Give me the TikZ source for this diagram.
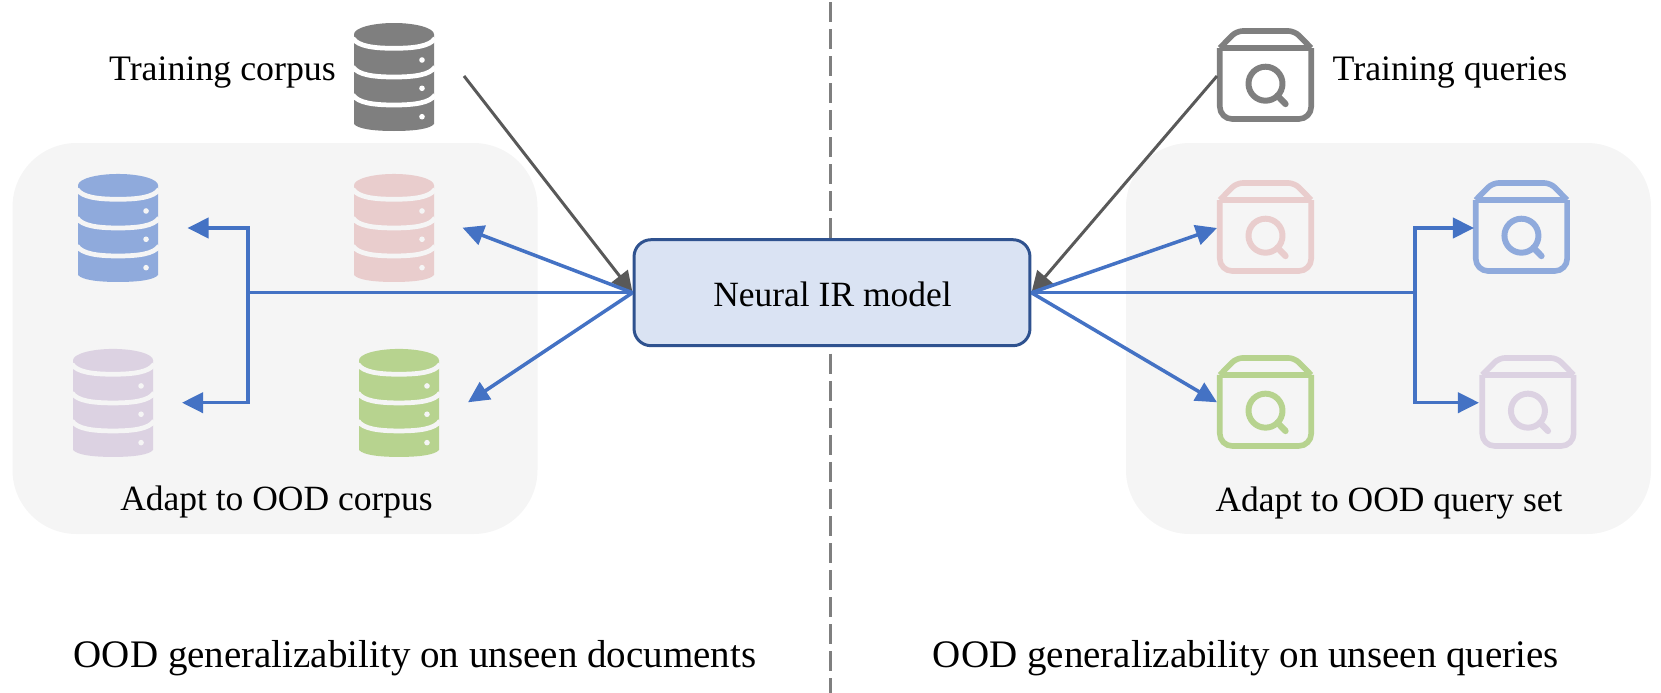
\documentclass[tikz,border=0pt]{standalone}
\usepackage{fontspec}
\setmainfont{Liberation Serif}
\usetikzlibrary{arrows.meta, positioning}

\definecolor{panelgray}{HTML}{F5F5F5}
\definecolor{flowblue}{HTML}{4472C4}
\definecolor{modelfill}{HTML}{DAE3F3}
\definecolor{modeldraw}{HTML}{2F528F}
\definecolor{icongray}{HTML}{7F7F7F}
\definecolor{iconblue}{HTML}{8FAADC}
\definecolor{iconpink}{HTML}{E9CDCD}
\definecolor{iconpurple}{HTML}{DCD2E2}
\definecolor{icongreen}{HTML}{B7D38F}

\tikzset{
    panel/.style={draw=none, fill=panelgray, rounded corners=1.28cm},
    dbslot/.style={inner sep=0, outer sep=0, minimum width=1.6cm, minimum height=2.16cm},
    queryslot/.style={inner sep=0, outer sep=0, minimum width=1.94cm, minimum height=1.88cm},
    flow/.style={draw=flowblue, line width=2pt, -{Triangle[length=12pt, width=11.5pt]}},
    flowtrunk/.style={draw=flowblue, line width=2pt},
    trainflow/.style={draw=gray!70!black, line width=1.7pt, -{Triangle[length=12pt, width=11.5pt]}},
    caption/.style={font=\fontsize{20.2}{24}\selectfont, anchor=base},
    traincaption/.style={font=\fontsize{20.4}{24}\selectfont, anchor=base},
    heading/.style={font=\fontsize{22.2}{26}\selectfont, anchor=base},
}

% database icon: slot node, colour, colour of the stripes
\newcommand{\dbicon}[3]{
    \begin{scope}[shift={(#1)}]
        \fill[#2] (-40,-42.7) -- (-40,47) .. controls (-36,52) and (-20,54) .. (0,54)
            .. controls (20,54) and (36,52) .. (40,47) -- (40,-42.7) -- cycle;
        \fill[#2] (0,-42.7) ellipse [x radius=40, y radius=11.3];
        \foreach \y in {-28.7,0,28} {
            \draw[#3, line width=2.7pt] (-41,\y-10) .. controls (-36,\y-2) and (-20,\y) .. (0,\y)
                .. controls (20,\y) and (36,\y-2) .. (41,\y-10);
        }
        \foreach \y in {-17,11.3,39.7} {
            \fill[#3] (28,\y) circle [radius=2.8];
        }
    \end{scope}
}

% query icon: slot node, colour
\newcommand{\queryicon}[2]{
    \begin{scope}[shift={(#1)}, draw=#2, line width=3.2pt, line join=round]
        \draw[rounded corners=7pt] (-45.7,-27) -- (-45.7,44) -- (45.7,44) -- (45.7,-27);
        \draw (-45.7,-27) -- (45.7,-27);
        \draw[rounded corners=3.5pt] (-45.7,-27) -- (-29,-44) -- (29,-44) -- (45.7,-27);
        \draw[line width=3.4pt] (0,8.7) circle [radius=17];
        \draw[line width=3.6pt, line cap=round] (12,20.7) -- (20,29);
    \end{scope}
}

\begin{document}
\begin{tikzpicture}[x=0.02cm, y=-0.02cm]
    \useasboundingbox (0,0) rectangle (1661,693);

    % Grey panels and the divider
    \path[panel] (12.5,143) rectangle (537.5,534);
    \path[panel] (1126,143) rectangle (1651,534);
    \coordinate (divtop) at (830.3,2);
    \coordinate (divbot) at (830.3,693);
    \draw[icongray, line width=1.5pt, dash pattern=on 11.4pt off 4pt] (divtop) -- (divbot);

    % The model
    \node[draw=modeldraw,
          fill=modelfill,
          line width=1.7pt,
          rounded corners=0.34cm,
          inner sep=0,
          minimum width=7.92cm,
          minimum height=2.12cm] (model) at (832,292.7) {};
    \node[caption] (modeltext) at (832.5,306.7) {Neural IR model};

    % Document side
    \node[dbslot] (dbtrain) at (394,77) {};
    \node[dbslot, below=0.86cm of dbtrain] (dbpink) {};
    \node[dbslot, left=3.92cm of dbpink] (dbblue) {};
    \node[dbslot, below=1.34cm of dbblue, xshift=-0.1cm] (dbpurple) {};
    \node[dbslot, below=1.34cm of dbpink, xshift=0.1cm] (dbgreen) {};
    \dbicon{dbtrain}{icongray}{white}
    \dbicon{dbpink}{iconpink}{panelgray}
    \dbicon{dbblue}{iconblue}{panelgray}
    \dbicon{dbpurple}{iconpurple}{panelgray}
    \dbicon{dbgreen}{icongreen}{panelgray}

    % Query side
    \node[queryslot] (qtrain) at (1265.5,75) {};
    \node[queryslot] (qpink) at (1265.5,227) {};
    \node[queryslot, below=1.62cm of qpink] (qgreen) {};
    \node[queryslot, right=3.19cm of qpink, xshift=-0.01cm] (qblue) {};
    \node[queryslot, right=3.31cm of qgreen] (qpurple) {};
    \queryicon{qtrain}{icongray}
    \queryicon{qpink}{iconpink}
    \queryicon{qgreen}{icongreen}
    \queryicon{qblue}{iconblue}
    \queryicon{qpurple}{iconpurple}

    % Texts
    \node[traincaption] (traindocs) at (222.5,80) {Training corpus};
    \node[traincaption] (trainquery) at (1450,80) {Training queries};
    \node[caption] (adaptdocs) at (276.5,510) {Adapt to OOD corpus};
    \node[caption] (adaptquery) at (1389,511) {Adapt to OOD query set};
    \node[heading] (headdocs) at (415,667) {OOD generalizability on unseen documents};
    \node[heading] (headquery) at (1246,667) {OOD generalizability on unseen queries};

    % Free ends of the connectors
    \coordinate (traindocsend) at (464,76);
    \coordinate (trainqueryend) at (1217,76);
    \coordinate (joinleft) at (248,292.7);
    \coordinate (joinright) at (1415,292.7);
    \coordinate (tipdbblue) at (187.5,228);
    \coordinate (tipdbpurple) at (182,402.7);
    \coordinate (tipdbpink) at (462.5,227.7);
    \coordinate (tipdbgreen) at (468,402.3);
    \coordinate (tipqpink) at (1217,228);
    \coordinate (tipqgreen) at (1217,402.3);
    \coordinate (tipqblue) at (1474,228);
    \coordinate (tipqpurple) at (1479,402.7);

    % Connectors
    \draw[trainflow] (traindocsend) -- (model.west);
    \draw[trainflow] (trainqueryend) -- (model.east);
    \draw[flowtrunk] (model.west) -- (joinleft);
    \draw[flowtrunk] (model.east) -- (joinright);
    \draw[flow] (joinleft) |- (tipdbblue);
    \draw[flow] (joinleft) |- (tipdbpurple);
    \draw[flow] (model.west) -- (tipdbpink);
    \draw[flow] (model.west) -- (tipdbgreen);
    \draw[flow] (joinright) |- (tipqblue);
    \draw[flow] (joinright) |- (tipqpurple);
    \draw[flow] (model.east) -- (tipqpink);
    \draw[flow] (model.east) -- (tipqgreen);
\end{tikzpicture}
\end{document}
